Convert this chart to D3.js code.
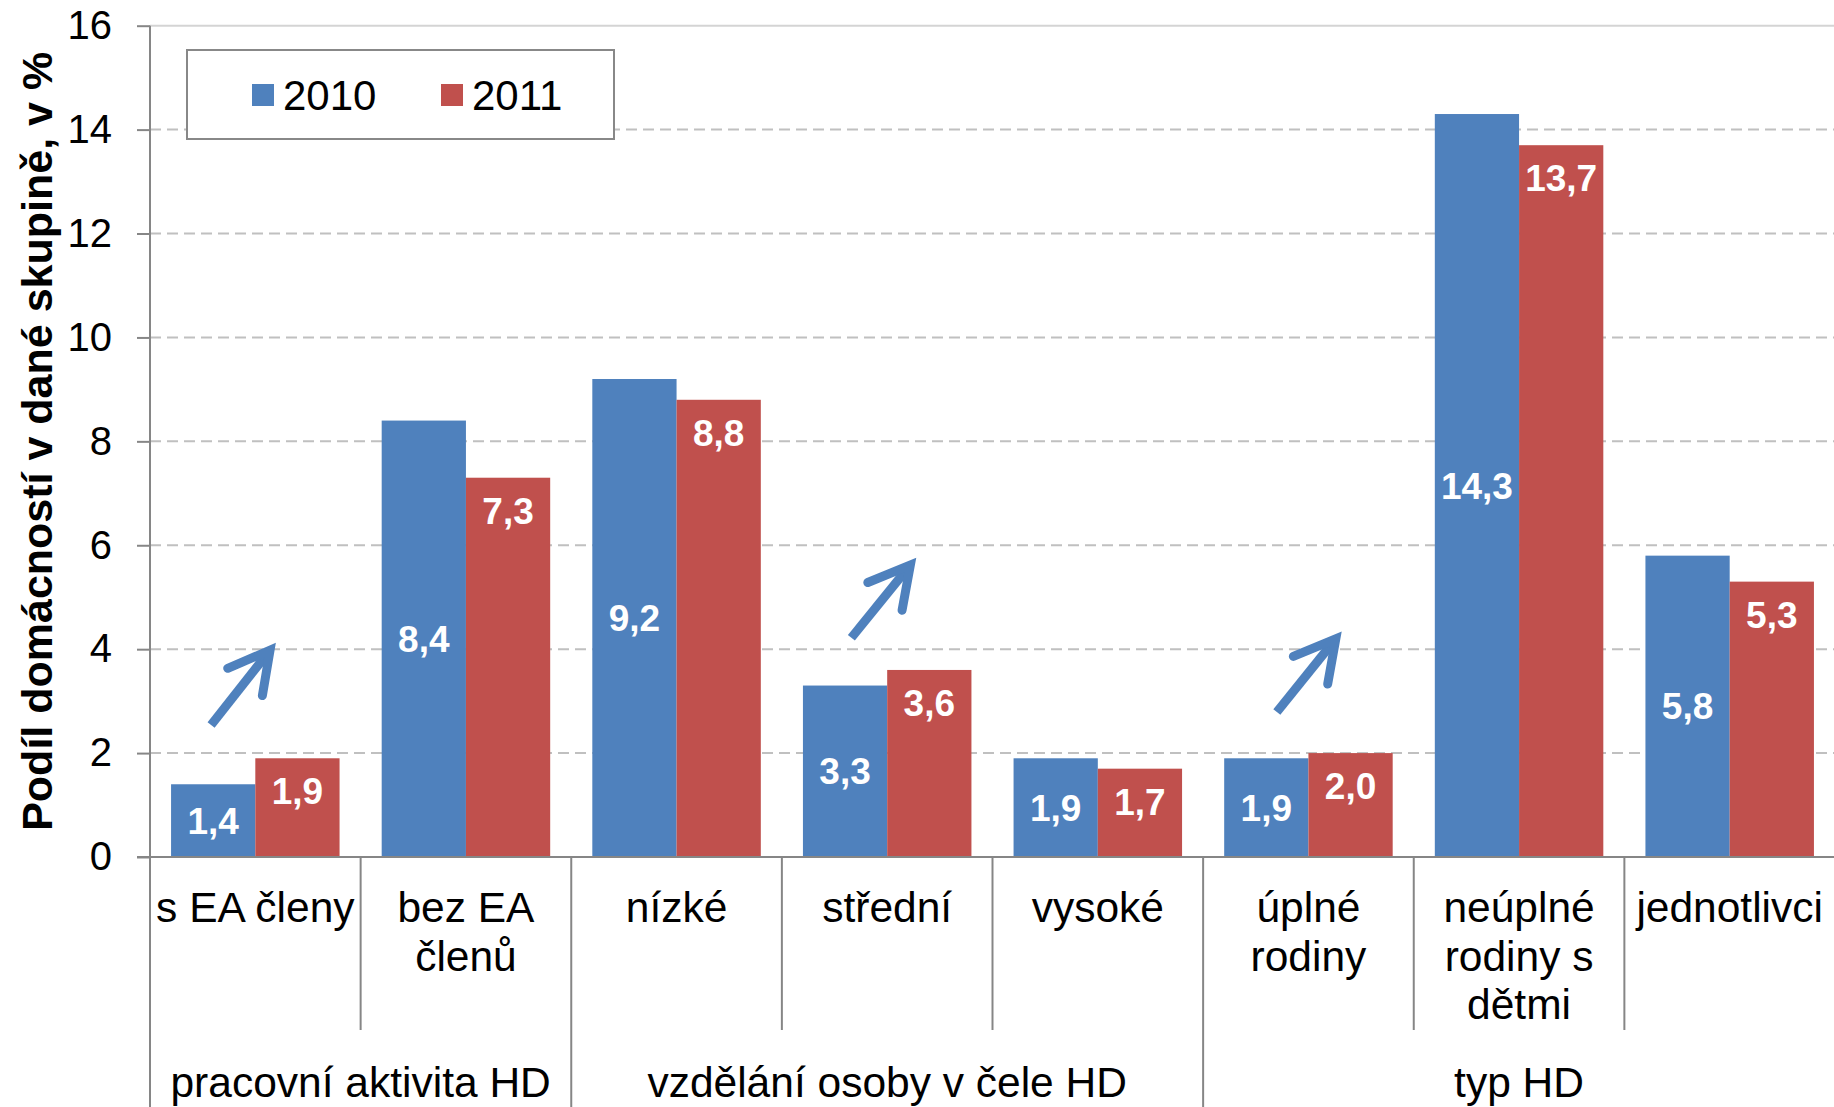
<!DOCTYPE html>
<html>
<head>
<meta charset="utf-8">
<script src="https://cdn.jsdelivr.net/npm/d3@7"></script>
<style>
  html, body { margin: 0; padding: 0; background: #fff; }
  svg { display: block; font-family: "Liberation Sans", Arial, sans-serif; }
</style>
</head>
<body>
<svg id="chart"></svg>
<script>
// data
const categories = ["s EA členy", "bez EA členů", "nízké", "střední", "vysoké", "úplné rodiny", "neúplné rodiny s dětmi", "jednotlivci"];
const categoryLines = [["s EA členy"], ["bez EA", "členů"], ["nízké"], ["střední"], ["vysoké"], ["úplné", "rodiny"], ["neúplné", "rodiny s", "dětmi"], ["jednotlivci"]];
const groups = ["pracovní aktivita HD", "vzdělání osoby v čele HD", "typ HD"];
const groupSizes = [2, 3, 3];
const series = ["2010", "2011"];
const values2010 = [1.4, 8.4, 9.2, 3.3, 1.9, 1.9, 14.3, 5.8];
const values2011 = [1.9, 7.3, 8.8, 3.6, 1.7, 2.0, 13.7, 5.3];
const yTicks = [0, 2, 4, 6, 8, 10, 12, 14, 16];
const yTitle = "Podíl domácností v dané skupině, v %";
// rising trend arrows: category, start and end value, position within the band
const arrows = [
    { cat: "s EA členy", from: 2.54, to: 3.98, x0: 0.29, x1: 0.57 },
    { cat: "střední", from: 4.22, to: 5.62, x0: 0.33, x1: 0.61 },
    { cat: "úplné rodiny", from: 2.79, to: 4.2, x0: 0.35, x1: 0.63 }
];

const colors = { "2010": "#4F81BD", "2011": "#C0504D" };
const W = 1834, H = 1107;
const mLeft = 150, mRight = 1835, mTop = 25.7, mBottom = 857;

const svg = d3.select("#chart").attr("width", W).attr("height", H);

const x = d3.scaleBand().domain(categories).range([mLeft, mRight]);
const bw = x.bandwidth();
const xs = d3.scaleBand().domain(series).range([bw * 0.1, bw * 0.9]);
const y = d3.scaleLinear().domain([0, 16]).range([mBottom, mTop]);

// gridlines
svg.append("g").selectAll("line")
    .data(yTicks.filter(d => d > 0))
    .enter().append("line")
    .attr("x1", mLeft).attr("x2", W)
    .attr("y1", d => y(d)).attr("y2", d => y(d))
    .attr("stroke", d => d === 16 ? "#d4d4d4" : "#c0c0c0")
    .attr("stroke-width", 2)
    .attr("stroke-dasharray", d => d === 16 ? null : "11,6");

// bars
const rows = categories.map((c, i) => ({ cat: c, "2010": values2010[i], "2011": values2011[i] }));
const cat = svg.append("g").selectAll("g")
    .data(rows)
    .enter().append("g")
    .attr("transform", d => `translate(${x(d.cat)},0)`);

cat.selectAll("rect")
    .data(d => series.map(s => ({ s: s, v: d[s] })))
    .enter().append("rect")
    .attr("x", d => xs(d.s))
    .attr("width", xs.bandwidth())
    .attr("y", d => y(d.v))
    .attr("height", d => y(0) - y(d.v))
    .attr("fill", d => colors[d.s]);

// data labels: 2010 centred, 2011 inside end
const fmt = d => d3.format(".1f")(d).replace(".", ",");
cat.selectAll("text.lbl")
    .data(d => series.map(s => ({ s: s, v: d[s] })))
    .enter().append("text")
    .attr("class", "lbl")
    .attr("x", d => xs(d.s) + xs.bandwidth() / 2)
    .attr("y", d => d.s === "2010" ? (y(d.v) + y(0)) / 2 + 13 : y(d.v) + 46)
    .attr("text-anchor", "middle")
    .attr("font-size", 37)
    .attr("font-weight", "bold")
    .attr("fill", "#fff")
    .text(d => fmt(d.v));

// y axis
const yAxis = svg.append("g")
    .attr("transform", `translate(${mLeft},0)`)
    .call(d3.axisLeft(y).tickValues(yTicks).tickSize(13).tickPadding(25).tickFormat(d3.format("d")));
yAxis.select(".domain").remove();
yAxis.selectAll(".tick line").attr("stroke", "#868686").attr("stroke-width", 2);
yAxis.selectAll(".tick text")
    .attr("font-size", 40)
    .attr("font-family", "Liberation Sans, Arial, sans-serif")
    .attr("fill", "#000");

svg.append("line")
    .attr("x1", mLeft).attr("x2", mLeft)
    .attr("y1", mTop).attr("y2", H)
    .attr("stroke", "#868686").attr("stroke-width", 2);

// x axis line
svg.append("line")
    .attr("x1", mLeft - 13).attr("x2", W)
    .attr("y1", mBottom).attr("y2", mBottom)
    .attr("stroke", "#868686").attr("stroke-width", 2);

// category separators and group separators
let groupStarts = [];
let acc = 0;
groupSizes.forEach(n => { groupStarts.push(acc); acc += n; });
svg.append("g").selectAll("line")
    .data(d3.range(1, categories.length))
    .enter().append("line")
    .attr("x1", i => x(categories[i])).attr("x2", i => x(categories[i]))
    .attr("y1", mBottom)
    .attr("y2", i => groupStarts.includes(i) ? H : 1030)
    .attr("stroke", "#868686").attr("stroke-width", 2);

// category labels
const lineH = 48.5;
svg.append("g").selectAll("text")
    .data(categories)
    .enter().append("text")
    .attr("x", d => x(d) + bw / 2)
    .attr("y", 922)
    .attr("text-anchor", "middle")
    .attr("font-size", 42.5)
    .attr("fill", "#000")
    .each(function (d, i) {
        d3.select(this).selectAll("tspan")
            .data(categoryLines[i])
            .enter().append("tspan")
            .attr("x", x(d) + bw / 2)
            .attr("dy", (t, j) => j === 0 ? 0 : lineH)
            .text(t => t);
    });

// group labels
svg.append("g").selectAll("text")
    .data(groups)
    .enter().append("text")
    .attr("x", (g, i) => {
        const a = x(categories[groupStarts[i]]);
        const b = x(categories[groupStarts[i] + groupSizes[i] - 1]) + bw;
        return (a + b) / 2;
    })
    .attr("y", 1097)
    .attr("text-anchor", "middle")
    .attr("font-size", 42.5)
    .attr("fill", "#000")
    .text(g => g);

// y title
svg.append("text")
    .attr("transform", `translate(52,${(mTop + mBottom) / 2}) rotate(-90)`)
    .attr("text-anchor", "middle")
    .attr("font-size", 43)
    .attr("font-weight", "bold")
    .attr("fill", "#000")
    .text(yTitle);

// arrows
const ag = svg.append("g").attr("stroke", "#4F81BD").attr("stroke-width", 9).attr("fill", "none");
arrows.forEach(a => {
    const x0 = x(a.cat) + a.x0 * bw, x1 = x(a.cat) + a.x1 * bw;
    const y0 = y(a.from), y1 = y(a.to);
    const ang = Math.atan2(y1 - y0, x1 - x0);
    const len = 46, spread = 0.5;
    const p1 = [x1 - len * Math.cos(ang - spread), y1 - len * Math.sin(ang - spread)];
    const p2 = [x1 - len * Math.cos(ang + spread), y1 - len * Math.sin(ang + spread)];
    ag.append("line").attr("x1", x0).attr("y1", y0).attr("x2", x1 - 4 * Math.cos(ang)).attr("y2", y1 - 4 * Math.sin(ang));
    ag.append("path")
        .attr("d", `M${p1[0]},${p1[1]}L${x1},${y1}L${p2[0]},${p2[1]}`)
        .attr("stroke-linecap", "round")
        .attr("stroke-linejoin", "miter");
});

// legend
const lg = svg.append("g").attr("transform", "translate(187,50)");
lg.append("rect").attr("width", 427).attr("height", 89)
    .attr("fill", "#fff").attr("stroke", "#888").attr("stroke-width", 2);
const li = lg.selectAll("g").data(series).enter().append("g")
    .attr("transform", (d, i) => `translate(${65 + i * 189},34)`);
li.append("rect").attr("width", 22).attr("height", 22).attr("fill", d => colors[d]);
li.append("text").attr("x", 31).attr("y", 26).attr("font-size", 42).attr("fill", "#000").text(d => d);
</script>
</body>
</html>
